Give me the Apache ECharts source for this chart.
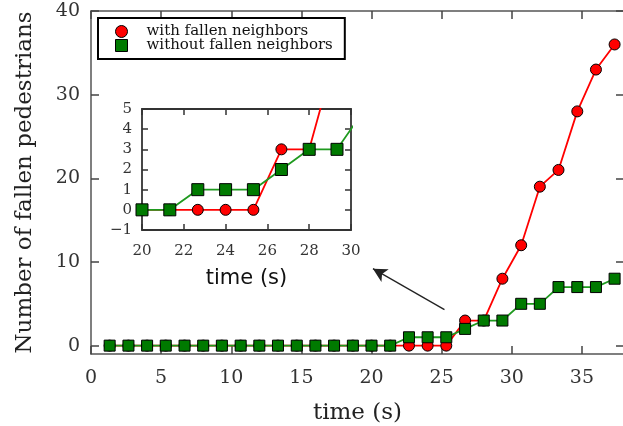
<!DOCTYPE html>
<html>
<head>
<meta charset="utf-8">
<script src="https://cdn.jsdelivr.net/npm/echarts@6/dist/echarts.min.js"></script>
<style>
  html, body { margin: 0; padding: 0; background: #fff; }
  #chart { width: 623px; height: 426px; }
</style>
</head>
<body>
<div id="chart"></div>
<script>
// time stamps (s) and fallen counts
const times = [1.33, 2.67, 4.0, 5.33, 6.67, 8.0, 9.33, 10.67, 12.0, 13.33, 14.67, 16.0, 17.33, 18.67,
  20.0, 21.33, 22.67, 24.0, 25.33, 26.67, 28.0, 29.33, 30.67, 32.0, 33.33, 34.67, 36.0, 37.33];
const withFallen = [0, 0, 0, 0, 0, 0, 0, 0, 0, 0, 0, 0, 0, 0,
  0, 0, 0, 0, 0, 3, 3, 8, 12, 19, 21, 28, 33, 36];
const withoutFallen = [0, 0, 0, 0, 0, 0, 0, 0, 0, 0, 0, 0, 0, 0,
  0, 0, 1, 1, 1, 2, 3, 3, 5, 5, 7, 7, 7, 8];

const mainXTicks = [0, 5, 10, 15, 20, 25, 30, 35];
const mainYTicks = [0, 10, 20, 30, 40];
const names = ["with fallen neighbors", "without fallen neighbors"];

const serif = "DejaVu Serif";
const RED = "#ff0000";
const GREEN = "#007a00";
const GREEN_LINE = "#1f9a1f";

const redData = times.map((t, i) => [t, withFallen[i]]);
const greenData = times.map((t, i) => [t, withoutFallen[i]]);

function mainAxis(extra, tickValues) {
  return Object.assign({
    type: "value",
    gridIndex: 0,
    splitLine: { show: false },
    axisLine: { show: true, onZero: false, lineStyle: { color: "#555", width: 1.5 } },
    axisTick: { show: true, inside: true, length: 8, customValues: tickValues, lineStyle: { color: "#444", width: 1.5 } },
  }, extra);
}

function insetAxis(extra) {
  return Object.assign({
    type: "value",
    gridIndex: 1,
    splitLine: { show: false },
    axisLine: { show: true, onZero: false, lineStyle: { color: "#333", width: 1.8 } },
    axisTick: { show: true, inside: true, length: 6, lineStyle: { color: "#333", width: 1.5 } },
  }, extra);
}

const chart = echarts.init(document.getElementById("chart"));

chart.setOption({
  animation: false,
  backgroundColor: "#fff",
  grid: [
    { left: 91, top: 11, width: 533, height: 343, outerBoundsMode: "none", containLabel: false },
    { left: 142, top: 109, width: 209, height: 121, outerBoundsMode: "none", containLabel: false }
  ],
  legend: {
    data: [
      { name: names[0], icon: "circle", itemStyle: { color: RED, borderColor: "#000", borderWidth: 1 } },
      { name: names[1], icon: "rect", itemStyle: { color: GREEN, borderColor: "#000", borderWidth: 1 } }
    ],
    orient: "vertical",
    left: 98,
    top: 18,
    itemWidth: 12,
    itemHeight: 12,
    itemGap: -1,
    padding: [6, 12, 6, 17],
    borderColor: "#000",
    borderWidth: 2,
    backgroundColor: "#fff",
    textStyle: { fontFamily: serif, fontSize: 15, color: "#111", padding: [0, 0, 0, 14] },
    selectedMode: false,
    z: 10
  },
  xAxis: [
    mainAxis({
      min: 0, max: 38, position: "bottom",
      axisLabel: { customValues: mainXTicks, fontFamily: serif, fontSize: 19, color: "#333", margin: 15 },
      name: "time (s)", nameLocation: "middle", nameGap: 48,
      nameTextStyle: { fontFamily: serif, fontSize: 23, color: "#222" }
    }, mainXTicks),
    mainAxis({
      min: 0, max: 38, position: "top",
      axisLabel: { show: false }
    }, mainXTicks),
    insetAxis({
      min: 20, max: 30, interval: 2, position: "bottom",
      axisLabel: { fontFamily: serif, fontSize: 15, color: "#333", margin: 14 },
      name: "time (s)", nameLocation: "middle", nameGap: 38,
      nameTextStyle: { fontFamily: "DejaVu Sans", fontSize: 21, color: "#111" }
    }),
    insetAxis({
      min: 20, max: 30, interval: 2, position: "top",
      axisLabel: { show: false }
    })
  ],
  yAxis: [
    mainAxis({
      min: -1, max: 40, position: "left",
      axisLabel: { customValues: mainYTicks, fontFamily: serif, fontSize: 19, color: "#333", margin: 11 },
      name: "Number of fallen pedestrians", nameLocation: "middle", nameGap: 54, nameRotate: 90,
      nameTextStyle: { fontFamily: serif, fontSize: 23, color: "#222" }
    }, mainYTicks),
    mainAxis({
      min: -1, max: 40, position: "right",
      axisLabel: { show: false }
    }, mainYTicks),
    insetAxis({
      min: -1, max: 5, interval: 1, position: "left",
      axisLabel: {
        fontFamily: serif, fontSize: 15, color: "#333", margin: 10,
        formatter: v => String(v).replace("-", "\u2212")
      }
    }),
    insetAxis({
      min: -1, max: 5, interval: 1, position: "right",
      axisLabel: { show: false }
    })
  ],
  series: [
    {
      name: names[0], type: "line", xAxisIndex: 0, yAxisIndex: 0, data: redData,
      symbol: "circle", symbolSize: 11,
      itemStyle: { color: RED, borderColor: "#000", borderWidth: 1 },
      lineStyle: { color: RED, width: 1.8 },
      emphasis: { disabled: true },
      markLine: {
        silent: true,
        symbol: ["none", "arrow"],
        symbolSize: [11, 14],
        label: { show: false },
        lineStyle: { color: "#222", width: 1.3, type: "solid" },
        data: [[{ coord: [25.2, 4.3] }, { coord: [20.1, 9.2] }]]
      }
    },
    {
      name: names[1], type: "line", xAxisIndex: 0, yAxisIndex: 0, data: greenData,
      symbol: "rect", symbolSize: 11,
      itemStyle: { color: GREEN, borderColor: "#000", borderWidth: 1 },
      lineStyle: { color: GREEN_LINE, width: 1.8 },
      emphasis: { disabled: true }
    },
    {
      name: names[0], type: "line", xAxisIndex: 2, yAxisIndex: 2, data: redData,
      symbol: "circle", symbolSize: 11, clip: true,
      itemStyle: { color: RED, borderColor: "#000", borderWidth: 1 },
      lineStyle: { color: RED, width: 1.8 },
      emphasis: { disabled: true }
    },
    {
      name: names[1], type: "line", xAxisIndex: 2, yAxisIndex: 2, data: greenData,
      symbol: "rect", symbolSize: 12, clip: true,
      itemStyle: { color: GREEN, borderColor: "#000", borderWidth: 1 },
      lineStyle: { color: GREEN_LINE, width: 1.8 },
      emphasis: { disabled: true }
    }
  ]
});
</script>
</body>
</html>
